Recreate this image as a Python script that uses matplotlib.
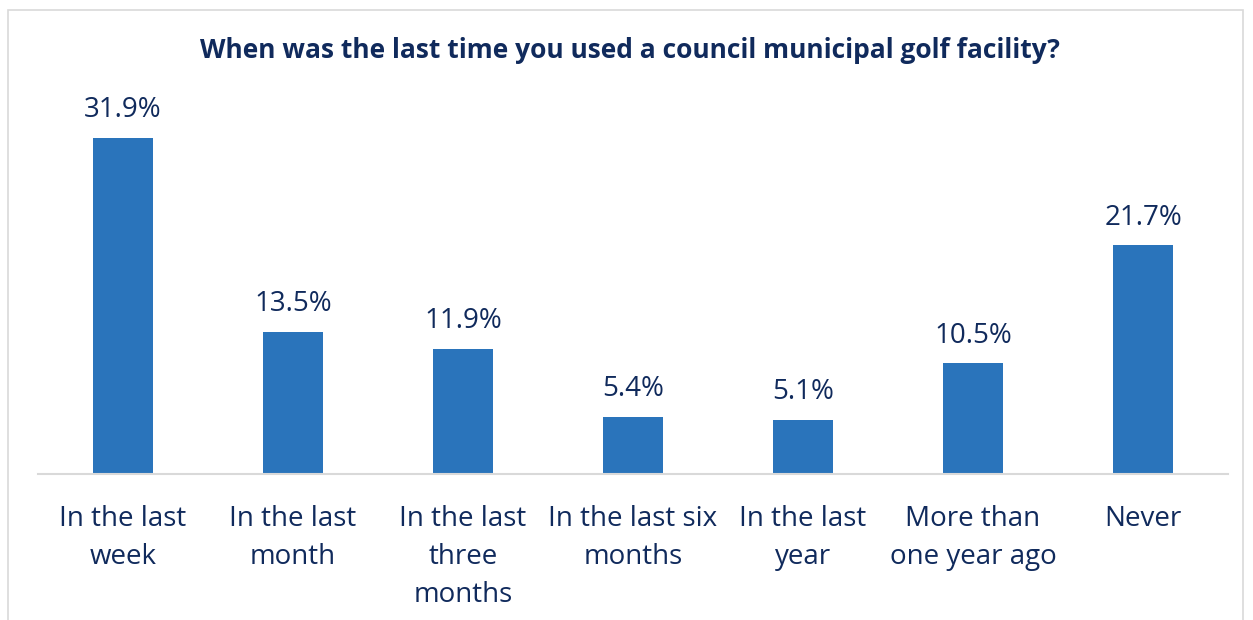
import matplotlib
matplotlib.use("Agg")
import matplotlib.pyplot as plt
from matplotlib.patches import Rectangle

plt.rcParams["font.family"] = ["Open Sans", "DejaVu Sans"]

categories = [
    "In the last\nweek",
    "In the last\nmonth",
    "In the last\nthree\nmonths",
    "In the last six\nmonths",
    "In the last\nyear",
    "More than\none year ago",
    "Never",
]
values = [31.9, 13.5, 11.9, 5.4, 5.1, 10.5, 21.7]
title = "When was the last time you used a council municipal golf facility?"

TEXT = "#102a5c"
BAR = "#2a74bb"

W, H = 1253, 620
fig = plt.figure(figsize=(W / 100, H / 100), dpi=100)
fig.patch.set_facecolor("white")

# outer chart border (light gray)
fig.patches.append(Rectangle((8 / W, -0.05), (1243 - 8) / W, 1.05 - 10 / H,
                             transform=fig.transFigure, fill=False,
                             edgecolor="#d9d9d9", linewidth=1.2))

ax = fig.add_axes([38 / W, 1 - 474 / H, 1190 / W, 368.6 / H])
x = list(range(len(categories)))
ax.bar(x, values, width=0.353, color=BAR, zorder=2)
ax.set_xlim(-0.5, len(categories) - 0.5)
ax.set_ylim(0, 35)

for xi, v in zip(x, values):
    ax.annotate(f"{v:.1f}%", xy=(xi, v), xytext=(0, 10), textcoords="offset points",
                ha="center", va="bottom", fontsize=20, color=TEXT)

ax.set_xticks(x)
ax.set_xticklabels(categories, fontsize=20, color=TEXT, linespacing=1.48)
ax.tick_params(axis="x", length=0, pad=22)
ax.set_yticks([])
for s in ["top", "right", "left"]:
    ax.spines[s].set_visible(False)
ax.spines["bottom"].set_color("#d9d9d9")
ax.spines["bottom"].set_linewidth(1.5)

fig.text(630 / W, 1 - 51 / H, title, ha="center", va="center",
         fontsize=19, fontweight="bold", color=TEXT)

fig.savefig("out.png", dpi=100)
